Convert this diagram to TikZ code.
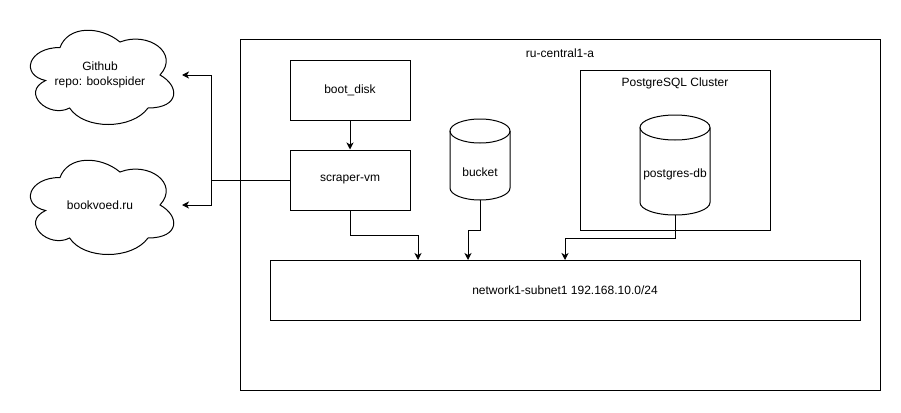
\documentclass[tikz,border=0pt]{standalone}
\usepackage{fontspec}
\setmainfont{Liberation Sans}
\usetikzlibrary{arrows.meta}
\begin{document}
\begin{tikzpicture}[x=1pt,y=-1pt, line width=1pt, font=\fontsize{12}{14.4}\selectfont,
  box/.style={draw, minimum width=120pt, minimum height=60pt, inner sep=0pt},
  ghost/.style={inner sep=0pt, outer sep=0pt},
  arr/.style={-{Stealth[length=7pt,width=7pt,inset=2pt]}},
  cloudpath/.style={draw, line width=1pt}]
\useasboundingbox (0,0) rectangle (901,412);

% zone
\node[draw, minimum width=640pt, minimum height=350pt, ghost] (zone) at (560,215) {};
\node (zonelbl) at (560,53) {ru-central1-a};

% boxes
\node[box] (boot) at (350,90) {boot\_disk};
\node[box] (vm) at (350,180) {scraper-vm};

% postgres cluster
\node[draw, minimum width=190pt, minimum height=160pt, ghost] (cluster) at (675,150) {};
\node (clusterlbl) at (675,83) {PostgreSQL Cluster};

% network
\node[draw, minimum width=590pt, minimum height=60pt, ghost] (net) at (565,290) {network1-subnet1 192.168.10.0/24};

% bucket cylinder
\draw (450,131) -- (450,188) arc[start angle=180, end angle=360, x radius=30pt, y radius=12pt] -- (510,131);
\draw (480,131) ellipse[x radius=30pt, y radius=12pt];
\node[ghost, minimum width=60pt, minimum height=81pt] (bucket) at (480,159.5) {};
\node (bucketlbl) at (480,172) {bucket};

% postgres-db cylinder
\draw (640,127.5) -- (640,202.5) arc[start angle=180, end angle=360, x radius=35pt, y radius=12.5pt] -- (710,127.5);
\draw (675,127.5) ellipse[x radius=35pt, y radius=12.5pt];
\node[ghost, minimum width=70pt, minimum height=100pt] (pg) at (675,165) {};
\node (pglbl) at (675,174) {postgres-db};

% clouds
\begin{scope}[shift={(20,20)}, x=1.6pt, y=-1.1pt]
\draw[cloudpath] (25,25) .. controls (5,25) and (0,50) .. (16,55) .. controls (0,66) and (18,90) .. (31,80) .. controls (40,100) and (70,100) .. (80,80) .. controls (100,80) and (100,60) .. (87.5,50) .. controls (100,30) and (80,10) .. (62.5,20) .. controls (50,5) and (30,5) .. (25,25) -- cycle;
\end{scope}
\node[ghost, minimum width=160pt, minimum height=110pt, align=center] (github) at (100,75) {Github\\repo: bookspider};

\begin{scope}[shift={(20,150)}, x=1.6pt, y=-1.1pt]
\draw[cloudpath] (25,25) .. controls (5,25) and (0,50) .. (16,55) .. controls (0,66) and (18,90) .. (31,80) .. controls (40,100) and (70,100) .. (80,80) .. controls (100,80) and (100,60) .. (87.5,50) .. controls (100,30) and (80,10) .. (62.5,20) .. controls (50,5) and (30,5) .. (25,25) -- cycle;
\end{scope}
\node[ghost, minimum width=160pt, minimum height=110pt] (bookvoed) at (100,205) {bookvoed.ru};

% coordinates
\coordinate (split) at (211,180);
\coordinate (in1) at (418,260);
\coordinate (in2) at (468,260);
\coordinate (in3) at (565,260);

% connectors
\draw[arr] (boot.south) -- (vm.north);
\draw (vm.west) -- (split);
\draw[arr] (split) |- ([xshift=2pt]github.east);
\draw[arr] (split) |- ([xshift=2pt]bookvoed.east);
\draw[arr] (vm.south) -- ++(0,25) -| (in1);
\draw[arr] (bucket.south) -- ++(0,30) -| (in2);
\draw[arr] (pg.south) -- ++(0,23) -| (in3);
\end{tikzpicture}
\end{document}
